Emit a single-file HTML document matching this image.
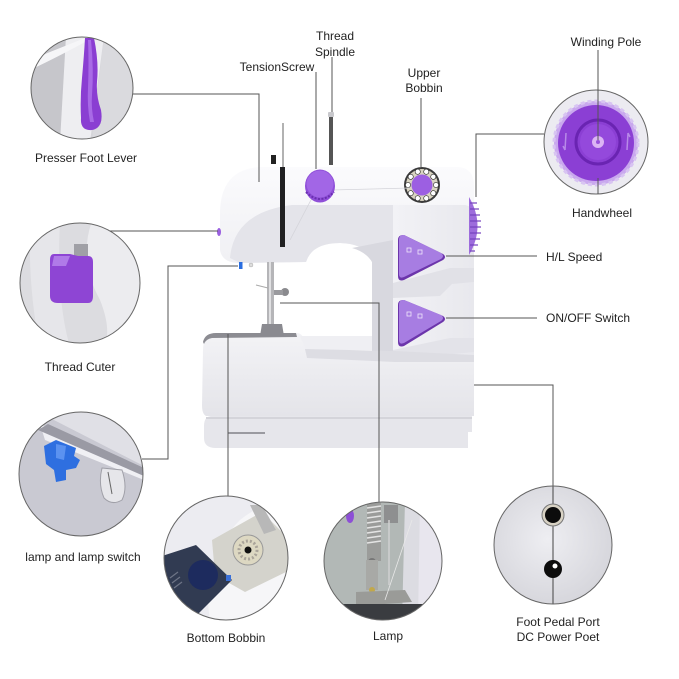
<!DOCTYPE html>
<html><head><meta charset="utf-8"><style>
html,body{margin:0;padding:0;background:#fff;}
svg{display:block;}
text{font-family:"Liberation Sans",Arial,sans-serif;font-size:12px;fill:#222;}
</style></head><body>
<svg width="679" height="679" viewBox="0 0 679 679" xmlns="http://www.w3.org/2000/svg">
<defs>
<linearGradient id="gArm" x1="0" y1="0" x2="0" y2="1"><stop offset="0" stop-color="#fbfbfd"/><stop offset="0.35" stop-color="#f3f3f6"/><stop offset="1" stop-color="#e8e8ed"/></linearGradient>
<linearGradient id="gBed" x1="0" y1="0" x2="0" y2="1"><stop offset="0" stop-color="#f3f3f6"/><stop offset="1" stop-color="#e4e4e9"/></linearGradient>
<linearGradient id="gCol" x1="0" y1="0" x2="1" y2="0"><stop offset="0" stop-color="#f2f2f6"/><stop offset="1" stop-color="#e8e8ed"/></linearGradient>
<radialGradient id="gPed" cx="0.45" cy="0.45" r="0.6"><stop offset="0" stop-color="#eeeef2"/><stop offset="1" stop-color="#d4d4da"/></radialGradient>
<clipPath id="c1"><circle cx="82" cy="88" r="51"/></clipPath>
<clipPath id="c2"><circle cx="80" cy="283" r="60"/></clipPath>
<clipPath id="c3"><circle cx="81" cy="474" r="62"/></clipPath>
<clipPath id="c4"><circle cx="226" cy="558" r="62"/></clipPath>
<clipPath id="c5"><circle cx="383" cy="561" r="59"/></clipPath>
<clipPath id="c6"><circle cx="553" cy="545" r="59"/></clipPath>
<clipPath id="c7"><circle cx="596" cy="142" r="52"/></clipPath>
</defs>

<!-- ===== Machine ===== -->
<!-- base plate -->
<path d="M212,416 L472,416 L472,432 L468,432 L468,448 L216,448 Q204,448 204,438 L204,426 Q204,416 212,416 Z" fill="#e6e6eb"/>
<line x1="206" y1="418" x2="472" y2="418" stroke="#d4d4da" stroke-width="2"/>
<line x1="228" y1="433" x2="265" y2="433" stroke="#9a9aa0" stroke-width="2"/>
<!-- arm + column -->
<path d="M220,250 L220,212 Q221,168 262,167 L458,167 Q474,168 474,186 L474,360 L372,360 L372,262 Q368,244 340,243 Q312,243 306,262 L240,263 Q222,263 220,250 Z" fill="url(#gArm)"/>
<path d="M230,258 Q234,212 292,205 L393,205 L393,360 L372,360 L372,262 Q368,244 340,243 Q312,243 306,262 L240,263 Z" fill="#e4e4ea"/>
<path d="M352,248 Q366,252 372,262 L372,360 L393,360 L393,240 Z" fill="#d8d8df"/>
<!-- right column face -->
<path d="M393,205 L465,205 Q474,206 474,220 L474,360 L393,360 Z" fill="url(#gCol)"/>
<path d="M393,283 L450,268 L474,268 L474,282 L452,284 L440,296 L393,298 Z" fill="#e1e1e7"/>
<path d="M393,350 L450,338 L474,338 L474,352 L393,360 Z" fill="#e3e3e9"/>
<!-- bed -->
<path d="M203,350 Q203,334 216,333 L298,333 Q303,334 305,342 L307,350 L393,352 L474,356 L474,416 L206,416 Q202,414 202,405 Z" fill="url(#gBed)"/>
<path d="M203,342 Q205,333 216,333 L296,333 L297,337 L212,338 Q206,339 204,344 Z" fill="#8c8c92"/>
<path d="M300,336 L372,336 L372,350 L306,350 Z" fill="#efeff3"/>
<path d="M305,349 L395,351 L474,355 L474,362 L395,362 L307,358 Z" fill="#dddde3"/>
<!-- handwheel on machine -->
<path d="M469,197 Q486,226 469,255 Z" fill="#9d6cdc"/>
<g stroke="#7440bd" stroke-width="1.2">
<line x1="470" y1="203" x2="477" y2="203"/><line x1="470" y1="209" x2="479" y2="209"/><line x1="470" y1="215" x2="480" y2="215"/><line x1="470" y1="221" x2="481" y2="221"/><line x1="470" y1="227" x2="481" y2="227"/><line x1="470" y1="233" x2="481" y2="233"/><line x1="470" y1="239" x2="480" y2="239"/><line x1="470" y1="245" x2="478" y2="245"/><line x1="470" y1="251" x2="475" y2="251"/>
</g>
<!-- buttons -->
<path d="M403,235 Q398,235 398,240 L398,276 Q398,282 404,280 L443,260 Q447,257 443,254 L404,235 Z" fill="#6c35ab"/>
<path d="M403,235 Q399,235 399,240 L399,274 Q399,279 404,277 L441,259 Q445,256 441,253 L404,235 Z" fill="#a77de2"/>
<path d="M403,300 Q398,300 398,305 L398,342 Q398,348 404,346 L443,322 Q447,319 443,316 L404,300 Z" fill="#6c35ab"/>
<path d="M403,300 Q399,300 399,305 L399,340 Q399,345 404,343 L441,321 Q445,318 441,315 L404,300 Z" fill="#a77de2"/>
<g fill="none" stroke="#f0e6fb" stroke-width="0.8">
<rect x="407" y="248" width="4" height="4"/><rect x="418" y="250" width="4" height="4"/>
<rect x="407" y="312" width="4" height="4"/><rect x="418" y="314" width="4" height="4"/>
</g>
<!-- upper bobbin -->
<circle cx="422" cy="185" r="18" fill="#3b3b3b"/>
<circle cx="422" cy="185" r="16" fill="#d9d4c2"/>
<g fill="#fff" stroke="#222" stroke-width="0.6">
<circle cx="436" cy="185" r="2.6"/><circle cx="433.3" cy="193.2" r="2.6"/><circle cx="426.3" cy="198.3" r="2.6"/><circle cx="417.7" cy="198.3" r="2.6"/><circle cx="410.7" cy="193.2" r="2.6"/><circle cx="408" cy="185" r="2.6"/><circle cx="410.7" cy="176.8" r="2.6"/><circle cx="417.7" cy="171.7" r="2.6"/><circle cx="426.3" cy="171.7" r="2.6"/><circle cx="433.3" cy="176.8" r="2.6"/>
</g>
<circle cx="422" cy="185" r="10.5" fill="#9c5fe2"/>
<!-- thread lines -->
<line x1="332" y1="190" x2="410" y2="188" stroke="#d4d4da" stroke-width="0.8"/>
<line x1="312" y1="198" x2="290" y2="240" stroke="#d4d4da" stroke-width="0.8"/>
<!-- tension knob -->
<ellipse cx="320" cy="186" rx="15" ry="16.5" fill="#8f4fd8"/>
<ellipse cx="320" cy="184" rx="13.5" ry="13.5" fill="#a266e6"/>
<path d="M306,192 Q320,206 334,192" fill="none" stroke="#6a2fb0" stroke-width="2" stroke-dasharray="2 1.5"/>
<!-- spindle -->
<rect x="329" y="115" width="4" height="50" fill="#555"/>
<rect x="328" y="112" width="6" height="5" rx="1" fill="#c8c8cc"/>
<!-- thread guide / needle bar -->
<line x1="283" y1="123" x2="283" y2="168" stroke="#999" stroke-width="1.5"/>
<rect x="280" y="167" width="5" height="80" fill="#202022"/>
<rect x="271" y="155" width="5" height="9" fill="#222"/>
<!-- thread cutter nub and lamp switch -->
<ellipse cx="219" cy="232" rx="2" ry="4" fill="#9a5fe0"/>
<rect x="239" y="262" width="3.5" height="7" fill="#2a6ee0"/>
<circle cx="251" cy="265" r="2" fill="#ddd" stroke="#aaa" stroke-width="0.5"/>
<!-- presser bar and foot -->
<rect x="267" y="262" width="7" height="62" fill="#b5b5b8"/>
<rect x="269" y="262" width="2" height="62" fill="#e0e0e2"/>
<circle cx="285" cy="292" r="4" fill="#8a8a8e"/>
<rect x="274" y="290" width="9" height="5" fill="#9a9a9e"/>
<path d="M262,324 L282,324 L284,336 L260,336 Z" fill="#8a8a90"/>
<line x1="256" y1="285" x2="268" y2="288" stroke="#aaa" stroke-width="1"/>

<!-- ===== Connector lines ===== -->
<g stroke="#555" stroke-width="1" fill="none">
<path d="M133,94 H259 V182"/>
<path d="M110,231 H218"/>
<path d="M238,266 H168 V459 H142"/>
<path d="M228,334 V497"/>
<path d="M280,303 H379 V503"/>
<path d="M474,385 H553 V604"/>
<path d="M544,134 H476 V197"/>
<path d="M446,256 H537"/>
<path d="M446,318 H537"/>
<path d="M316,72 V169"/>
<path d="M332,57 V112"/>
<path d="M421,98 V167"/>
</g>

<!-- ===== Circle 1: Presser foot lever ===== -->
<g clip-path="url(#c1)">
<rect x="30" y="36" width="106" height="106" fill="#d6d6da"/>
<path d="M30,36 L70,36 L62,142 L30,142 Z" fill="#c6c6cb"/>
<path d="M66,36 L104,36 L90,142 L60,142 Z" fill="#eeeef1"/>
<path d="M104,36 L136,36 L136,142 L92,142 Z" fill="#dadade"/>
<path d="M30,60 Q60,48 90,36 L96,36 Q60,56 30,70 Z" fill="#f6f6f8"/>
<path d="M85,38 L94,38 Q99,62 97,82 Q96,96 101,110 Q104,128 92,130 Q80,131 81,118 Q80,98 82,78 Q84,56 85,38 Z" fill="#8a3ed2"/>
<path d="M88,40 L91,40 Q94,70 92,95 Q91,108 94,122 L90,122 Q87,105 88,88 Q89,62 88,40 Z" fill="#a86ae6"/>
</g>
<circle cx="82" cy="88" r="51" fill="none" stroke="#666" stroke-width="1"/>

<!-- ===== Circle 2: Thread cutter ===== -->
<g clip-path="url(#c2)">
<rect x="18" y="221" width="126" height="126" fill="#dcdce0"/>
<path d="M92,221 Q78,260 100,300 Q112,330 104,347 L144,347 L144,221 Z" fill="#ececef"/>
<path d="M30,221 L60,221 Q56,300 70,347 L40,347 Q28,290 30,221 Z" fill="#e6e6ea"/>
<path d="M74,244 L88,244 L88,262 L74,262 Z" fill="#a0a0a6"/>
<path d="M54,254 Q50,254 50,260 L50,296 Q50,303 58,303 L88,303 Q93,303 93,296 L93,262 Q93,256 88,256 L78,256 L70,254 Z" fill="#8e45d4"/>
<path d="M54,256 L70,256 L66,266 L52,266 Z" fill="#b07ae8"/>
</g>
<circle cx="80" cy="283" r="60" fill="none" stroke="#666" stroke-width="1"/>

<!-- ===== Circle 3: lamp and lamp switch ===== -->
<g clip-path="url(#c3)">
<rect x="18" y="411" width="126" height="126" fill="#c9c9d2"/>
<path d="M18,411 L144,411 L144,466 L50,418 L18,418 Z" fill="#e0e0e6"/>
<path d="M40,424 L144,470 L144,480 L45,440 Z" fill="#f0f0f4"/>
<path d="M38,430 L144,476 L144,468 L48,424 Z" fill="#9a9aa4"/>
<path d="M44,446 L56,440 L66,444 L76,448 L74,456 L80,460 L76,468 L66,470 L66,480 L56,482 L54,470 L46,464 Z" fill="#2e6fe0"/>
<path d="M56,444 L66,446 L64,460 L56,458 Z" fill="#5b92f0"/>
<path d="M102,468 L122,470 Q128,488 122,500 Q112,506 104,498 Q98,484 102,468 Z" fill="#e6e6ea" stroke="#a0a0a8" stroke-width="1"/>
<path d="M108,472 L112,494" stroke="#666" stroke-width="1"/>
</g>
<circle cx="81" cy="474" r="62" fill="none" stroke="#666" stroke-width="1"/>

<!-- ===== Circle 4: Bottom bobbin ===== -->
<g clip-path="url(#c4)">
<rect x="163" y="495" width="126" height="126" fill="#ececf1"/>
<path d="M210,620 Q200,560 240,520 Q262,502 290,500 L290,620 Z" fill="#f6f6f8"/>
<path d="M212,540 L262,512 L290,540 L290,570 L245,592 L215,575 Z" fill="#d4d3cc"/>
<path d="M250,505 L262,505 L276,530 L264,534 Z" fill="#b8b8b8"/>
<circle cx="248" cy="550" r="15" fill="#ddd8c2" stroke="#999" stroke-width="1"/>
<circle cx="248" cy="550" r="9" fill="none" stroke="#aaa49a" stroke-width="3" stroke-dasharray="2 2"/>
<circle cx="248" cy="550" r="3.5" fill="#111"/>
<path d="M162,556 L196,545 L232,580 L198,614 L162,600 Z" fill="#313b52"/>
<circle cx="203" cy="575" r="15" fill="#1d2b5e"/>
<g stroke="#6d7486" stroke-width="1.2"><line x1="170" y1="578" x2="178" y2="572"/><line x1="172" y1="583" x2="180" y2="577"/><line x1="174" y1="588" x2="182" y2="582"/></g>
<rect x="226" y="575" width="5" height="6" fill="#3a70d8"/>
</g>
<circle cx="226" cy="558" r="62" fill="none" stroke="#666" stroke-width="1"/>

<!-- ===== Circle 5: Lamp ===== -->
<g clip-path="url(#c5)">
<rect x="323" y="501" width="121" height="121" fill="#e8e6ee"/>
<rect x="323" y="501" width="90" height="121" fill="#b2b8b6"/>
<path d="M405,501 L420,501 L418,622 L402,622 Z" fill="#dcdce2"/>
<ellipse cx="350" cy="516" rx="4" ry="7" fill="#8d4fd6"/>
<rect x="367" y="503" width="14" height="58" fill="#9b9c9a"/>
<g stroke="#e4e4e4" stroke-width="1.5"><line x1="367" y1="508" x2="381" y2="506"/><line x1="367" y1="513" x2="381" y2="511"/><line x1="367" y1="518" x2="381" y2="516"/><line x1="367" y1="523" x2="381" y2="521"/><line x1="367" y1="528" x2="381" y2="526"/><line x1="367" y1="533" x2="381" y2="531"/><line x1="367" y1="538" x2="381" y2="536"/><line x1="367" y1="543" x2="381" y2="541"/></g>
<rect x="384" y="505" width="14" height="18" fill="#8e8f90"/>
<line x1="389" y1="520" x2="389" y2="585" stroke="#d0d0d0" stroke-width="1.5"/>
<circle cx="372" cy="562" r="4" fill="#777"/>
<rect x="366" y="560" width="12" height="30" fill="#a8a9a6"/>
<circle cx="372" cy="590" r="3" fill="#c2a84a"/>
<path d="M356,592 L405,590 L412,602 L356,606 Z" fill="#9a9b98"/>
<rect x="323" y="604" width="121" height="18" fill="#3a3c40"/>
<line x1="385" y1="600" x2="412" y2="520" stroke="#e8e8e8" stroke-width="0.8"/>
</g>
<circle cx="383" cy="561" r="59" fill="none" stroke="#666" stroke-width="1"/>

<!-- ===== Circle 6: Foot pedal / DC ===== -->
<g clip-path="url(#c6)">
<rect x="493" y="485" width="121" height="121" fill="url(#gPed)"/>
<line x1="553" y1="486" x2="553" y2="604" stroke="#444" stroke-width="1"/>
<circle cx="553" cy="515" r="11" fill="#d8d2c4" stroke="#777" stroke-width="1"/>
<circle cx="553" cy="515" r="8" fill="#0c0c0c"/>
<circle cx="553" cy="569" r="9" fill="#0c0c0c"/>
<circle cx="555" cy="566" r="2.5" fill="#fff"/>
</g>
<circle cx="553" cy="545" r="59" fill="none" stroke="#666" stroke-width="1"/>

<!-- ===== Circle 7: Handwheel ===== -->
<g clip-path="url(#c7)">
<rect x="543" y="89" width="106" height="106" fill="#ecebf1"/>
<circle cx="596" cy="143" r="42" fill="#c9a8ee" stroke="#d8c4f2" stroke-width="3" stroke-dasharray="4 3"/>
<circle cx="596" cy="143" r="38" fill="#8b3fd4"/>
<circle cx="598" cy="142" r="22" fill="none" stroke="#6a24b2" stroke-width="3"/>
<circle cx="598" cy="142" r="18" fill="#9449dc"/>
<circle cx="598" cy="142" r="6" fill="#dcb4f4"/>
<circle cx="598" cy="142" r="2" fill="#9a52dc"/>
<path d="M566,133 L565,150 M565,150 L563,146" stroke="#b88ae8" stroke-width="1.5" fill="none"/>
<path d="M627,150 L628,133 M628,133 L630,137" stroke="#b88ae8" stroke-width="1.5" fill="none"/>
</g>
<circle cx="596" cy="142" r="52" fill="none" stroke="#666" stroke-width="1"/>
<g stroke="#555" stroke-width="1"><line x1="598" y1="50" x2="598" y2="140"/><line x1="598" y1="178" x2="598" y2="194"/></g>

<!-- ===== Labels ===== -->
<text x="86" y="162" text-anchor="middle">Presser Foot Lever</text>
<text x="80" y="371" text-anchor="middle">Thread Cuter</text>
<text x="83" y="561" text-anchor="middle">lamp and lamp switch</text>
<text x="226" y="642" text-anchor="middle">Bottom Bobbin</text>
<text x="388" y="640" text-anchor="middle">Lamp</text>
<text x="558" y="626" text-anchor="middle">Foot Pedal Port</text>
<text x="558" y="641" text-anchor="middle">DC Power Poet</text>
<text x="602" y="217" text-anchor="middle">Handwheel</text>
<text x="606" y="46" text-anchor="middle">Winding Pole</text>
<text x="546" y="261">H/L Speed</text>
<text x="546" y="322">ON/OFF Switch</text>
<text x="277" y="71" text-anchor="middle">TensionScrew</text>
<text x="335" y="40" text-anchor="middle">Thread</text>
<text x="335" y="56" text-anchor="middle">Spindle</text>
<text x="424" y="77" text-anchor="middle">Upper</text>
<text x="424" y="92" text-anchor="middle">Bobbin</text>
</svg>
</body></html>
